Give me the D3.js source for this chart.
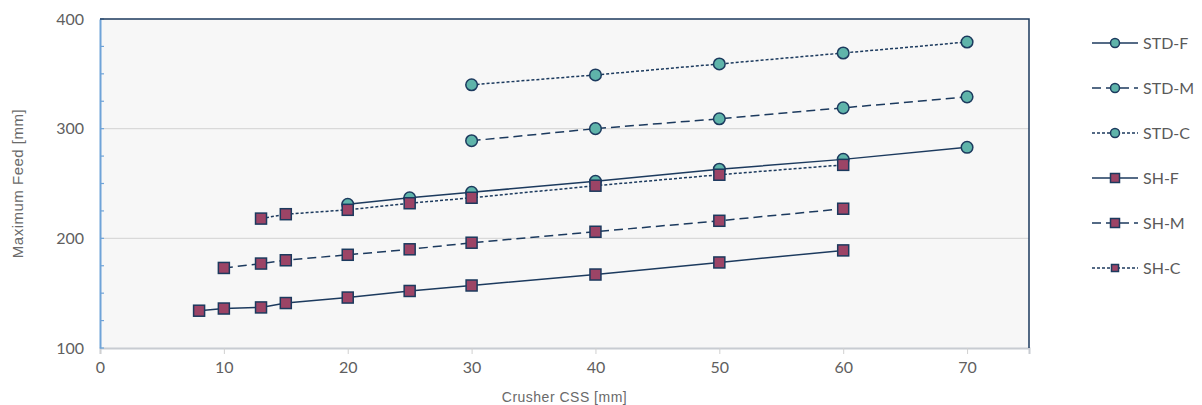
<!DOCTYPE html>
<html><head><meta charset="utf-8">
<script src="https://cdn.jsdelivr.net/npm/d3@7"></script>
<style>body{margin:0;background:#fff;} svg{display:block;}</style>
</head><body>
<svg id="c" width="1202" height="405"></svg>
<script>
const xTicks = [0,10,20,30,40,50,60,70];
const yTicks = [100,200,300,400];
const stdX = [20,25,30,40,50,60,70];
const stdF = [231,237,242,252,263,272,283];
const stdMX = [30,40,50,60,70];
const stdM = [289,300,309,319,329];
const stdC = [340,349,359,369,379];
const shFX = [8,10,13,15,20,25,30,40,50,60];
const shF = [134,136,137,141,146,152,157,167,178,189];
const shMX = [10,13,15,20,25,30,40,50,60];
const shM = [173,177,180,185,190,196,206,216,227];
const shCX = [13,15,20,25,30,40,50,60];
const shC = [218,222,226,232,237,248,258,267];
const seriesNames = ["STD-F","STD-M","STD-C","SH-F","SH-M","SH-C"];

const series = [
  {name:"STD-F", xs:stdX, ys:stdF, shape:"circle", dash:null},
  {name:"STD-M", xs:stdMX, ys:stdM, shape:"circle", dash:"9,5"},
  {name:"STD-C", xs:stdMX, ys:stdC, shape:"circle", dash:"3,2"},
  {name:"SH-F", xs:shFX, ys:shF, shape:"square", dash:null},
  {name:"SH-M", xs:shMX, ys:shM, shape:"square", dash:"9,5"},
  {name:"SH-C", xs:shCX, ys:shC, shape:"square", dash:"3,2"}
];

const navy = "#1c3a5e", teal = "#5fb4aa", plum = "#9c4466";
const L=100, R=1029, T=19, B=348;
const x = d3.scaleLinear().domain([0,75]).range([L,R]);
const y = d3.scaleLinear().domain([100,400]).range([B,T]);
const svg = d3.select("#c");

svg.append("rect").attr("x",L).attr("y",T).attr("width",R-L).attr("height",B-T).attr("fill","#f7f7f7");
// gridlines
svg.append("g").selectAll("line").data([200,300]).join("line")
  .attr("x1",L).attr("x2",R).attr("y1",d=>y(d)).attr("y2",d=>y(d))
  .attr("stroke","#d9d9d9").attr("stroke-width",1.2);

// x axis
const xa = svg.append("g").attr("transform",`translate(0,${B})`)
  .call(d3.axisBottom(x).tickValues(xTicks).tickSize(6).tickPadding(8));
xa.select(".domain").attr("stroke","#c8ccd2").attr("stroke-width",2);
xa.selectAll(".tick line").attr("stroke","#d0d0d0");
xa.selectAll("text").attr("fill","#5f5f5f").style("font-family","Lato, 'Open Sans', sans-serif").style("font-size","16px");

// y axis
const ya = svg.append("g").attr("transform",`translate(${L},0)`)
  .call(d3.axisLeft(y).tickValues(yTicks).tickSize(0).tickPadding(16));
ya.select(".domain").attr("stroke","#6fa3d8").attr("stroke-width",2);
ya.selectAll("text").attr("fill","#5f5f5f").style("font-family","Lato, 'Open Sans', sans-serif").style("font-size","16px");
// minor inward ticks
svg.append("g").selectAll("line").data(d3.range(100,401,25)).join("line")
  .attr("x1",L).attr("x2",L+4).attr("y1",d=>y(d)).attr("y2",d=>y(d))
  .attr("stroke","#6fa3d8").attr("stroke-width",1.2);

// top/right border
svg.append("path").attr("d",`M${L},${T}H${R}V${B}`).attr("fill","none").attr("stroke",navy).attr("stroke-width",1.5);

// axis titles
svg.append("text").attr("x",x(37.5)-0).attr("y",402).attr("text-anchor","middle")
  .attr("fill","#6a6a6a").style("font-family","'Liberation Sans', Arial, sans-serif").style("font-size","14px").style("letter-spacing","0.5px")
  .text("Crusher CSS [mm]");
svg.append("text").attr("transform",`translate(23,${(T+B)/2}) rotate(-90)`).attr("text-anchor","middle")
  .attr("fill","#6a6a6a").style("font-family","'Liberation Sans', Arial, sans-serif").style("font-size","15px").style("letter-spacing","0.5px")
  .text("Maximum Feed [mm]");

const line = d3.line().x(d=>x(d[0])).y(d=>y(d[1]));
function marker(g, shape, cx, cy, size){
  if(shape==="circle"){
    g.append("circle").attr("cx",cx).attr("cy",cy).attr("r",size)
      .attr("fill",teal).attr("stroke",navy).attr("stroke-width",1.5);
  } else {
    g.append("rect").attr("x",cx-size).attr("y",cy-size).attr("width",2*size).attr("height",2*size)
      .attr("fill",plum).attr("stroke",navy).attr("stroke-width",1.5);
  }
}
series.forEach(s=>{
  const pts = s.xs.map((v,i)=>[v,s.ys[i]]);
  const g = svg.append("g");
  g.append("path").attr("d",line(pts)).attr("fill","none").attr("stroke",navy)
    .attr("stroke-width",1.5).attr("stroke-dasharray",s.dash);
  pts.forEach(p=>marker(g,s.shape,x(p[0]),y(p[1]), s.shape==="circle"?5.8:5.5));
});

// legend
const legY = [43,88,133,178,223,268];
series.forEach((s,i)=>{
  const g = svg.append("g");
  const yy = legY[i];
  g.append("line").attr("x1",1092).attr("x2",1138).attr("y1",yy).attr("y2",yy)
    .attr("stroke",navy).attr("stroke-width",1.5).attr("stroke-dasharray",s.dash);
  const sz = s.shape==="circle"?4.5:(s.name==="SH-C"?3.5:4.5);
  marker(g,s.shape,1115,yy,sz);
  g.append("text").attr("x",1143).attr("y",yy+5.5).attr("fill","#5a5a5a")
    .style("font-family","Lato, 'Open Sans', sans-serif").style("font-size","16px").text(seriesNames[i]);
});
</script>
</body></html>
